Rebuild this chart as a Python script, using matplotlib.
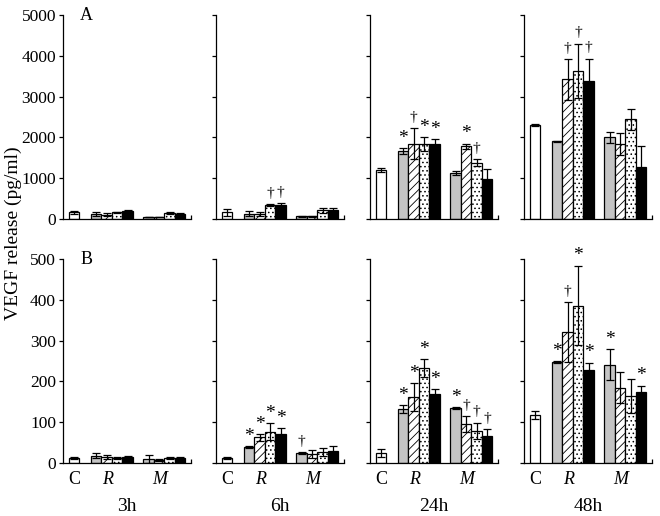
import matplotlib
matplotlib.use("Agg")
import matplotlib.pyplot as plt
import numpy as np

plt.rcParams['font.family'] = ['Liberation Serif', 'DejaVu Serif']
plt.rcParams['hatch.linewidth'] = 0.6

times = ['3h', '6h', '24h', '48h']
group_labels = ['C', 'R', 'M']
bar_positions = [0, 2.1, 3.1, 4.1, 5.1, 7.1, 8.1, 9.1, 10.1]

# Panel A (VEGF, 0-5000) : order C, R1..R4, M1..M4
A3_mean = [160, 115, 110, 160, 200, 55, 55, 150, 130]
A3_err = [40, 45, 30, 15, 10, 5, 5, 20, 10]
A3_sig = ['', '', '', '', '', '', '', '', '']
A6_mean = [160, 130, 130, 340, 340, 65, 65, 210, 210]
A6_err = [80, 60, 50, 30, 50, 5, 5, 70, 50]
A6_sig = ['', '', '', '†', '†', '', '', '', '']
A24_mean = [1200, 1660, 1850, 1830, 1830, 1130, 1780, 1380, 980]
A24_err = [50, 70, 370, 170, 120, 40, 70, 80, 240]
A24_sig = ['', '*', '†', '*', '*', '', '*', '†', '']
A48_mean = [2300, 1900, 3420, 3630, 3390, 2000, 1850, 2440, 1280]
A48_err = [20, 10, 500, 670, 540, 140, 270, 250, 510]
A48_sig = ['', '', '†', '†', '†', '', '', '', '']

# Panel B (VEGF, 0-500)
B3_mean = [13, 18, 14, 13, 14, 10, 8, 13, 13]
B3_err = [2, 6, 5, 2, 2, 10, 3, 2, 2]
B3_sig = ['', '', '', '', '', '', '', '', '']
B6_mean = [13, 39, 63, 77, 70, 25, 22, 26, 30]
B6_err = [2, 2, 8, 20, 15, 2, 10, 10, 12]
B6_sig = ['', '*', '*', '*', '*', '†', '', '', '']
B24_mean = [24, 132, 161, 233, 169, 135, 95, 79, 67]
B24_err = [10, 10, 34, 22, 12, 2, 20, 20, 17]
B24_sig = ['', '*', '*', '*', '*', '*', '†', '†', '†']
B48_mean = [118, 247, 321, 386, 228, 241, 185, 164, 173]
B48_err = [10, 2, 74, 98, 18, 38, 38, 41, 16]
B48_sig = ['', '*', '†', '*', '*', '*', '', '', '*']

A_means = [A3_mean, A6_mean, A24_mean, A48_mean]
A_errs = [A3_err, A6_err, A24_err, A48_err]
A_sigs = [A3_sig, A6_sig, A24_sig, A48_sig]
B_means = [B3_mean, B6_mean, B24_mean, B48_mean]
B_errs = [B3_err, B6_err, B24_err, B48_err]
B_sigs = [B3_sig, B6_sig, B24_sig, B48_sig]

colors = ['white', '#c4c4c4', 'white', 'white', 'black', '#c4c4c4', 'white', 'white', 'black']
hatches = [None, None, '////', '....', None, None, '////', '....', None]

fig = plt.figure(figsize=(6.6, 5.16), dpi=100)
W, H = 660.0, 516.0
col_left = [63, 216, 370, 524]
col_w = 128
rows = [(15, 219), (259, 463)]

xlim = (-1.05, 11.14)

for r, (means, errs, sigs, ymax, step) in enumerate([
        (A_means, A_errs, A_sigs, 5000, 1000),
        (B_means, B_errs, B_sigs, 500, 100)]):
    top, bot = rows[r]
    for c in range(4):
        ax = fig.add_axes([col_left[c] / W, 1 - bot / H, col_w / W, (bot - top) / H])
        for i, x in enumerate(bar_positions):
            ax.bar(x, means[c][i], width=1.0, color=colors[i], edgecolor='black',
                   linewidth=0.9, hatch=hatches[i], zorder=2)
            ax.errorbar(x, means[c][i], yerr=errs[c][i], fmt='none', ecolor='black',
                        elinewidth=0.9, capsize=2.6, capthick=0.9, zorder=3)
            if sigs[c][i]:
                s = sigs[c][i]
                ax.annotate(s, (x, means[c][i] + errs[c][i]), xytext=(0, 1 if s == '*' else 3),
                            textcoords='offset points', ha='center', va='bottom',
                            fontsize=14 if s == '*' else 11, annotation_clip=False)
        ax.set_xlim(*xlim)
        ax.set_ylim(0, ymax)
        ax.spines['top'].set_visible(False)
        ax.spines['right'].set_visible(False)
        ax.spines['left'].set_linewidth(0.9)
        ax.spines['bottom'].set_linewidth(0.9)
        ax.set_yticks(np.arange(0, ymax + 1, step))
        ax.tick_params(axis='y', direction='out', length=3, width=0.9, labelsize=12.5, pad=2)
        if c > 0:
            ax.set_yticklabels([])
        ax.set_xticks([xlim[1]], minor=True)
        ax.tick_params(axis='x', which='minor', direction='in', length=3, width=0.9)
        if r == 1:
            ax.set_xticks([0, 3.2, 8.2])
            ax.set_xticklabels(group_labels, fontsize=13)
            for lab in ax.get_xticklabels()[1:]:
                lab.set_style('italic')
            ax.tick_params(axis='x', which='major', length=0, pad=6)
            ax.set_xlabel(times[c], fontsize=14, labelpad=7)
        else:
            ax.set_xticks([])
        if c == 0:
            ax.text(0.18, 1.0, 'A' if r == 0 else 'B', transform=ax.transAxes,
                    fontsize=13, ha='center', va='center')

fig.text(13 / W, 1 - 233 / H, 'VEGF release (pg/ml)', rotation=90,
         ha='center', va='center', fontsize=14)

fig.savefig('out.png', dpi=100)
